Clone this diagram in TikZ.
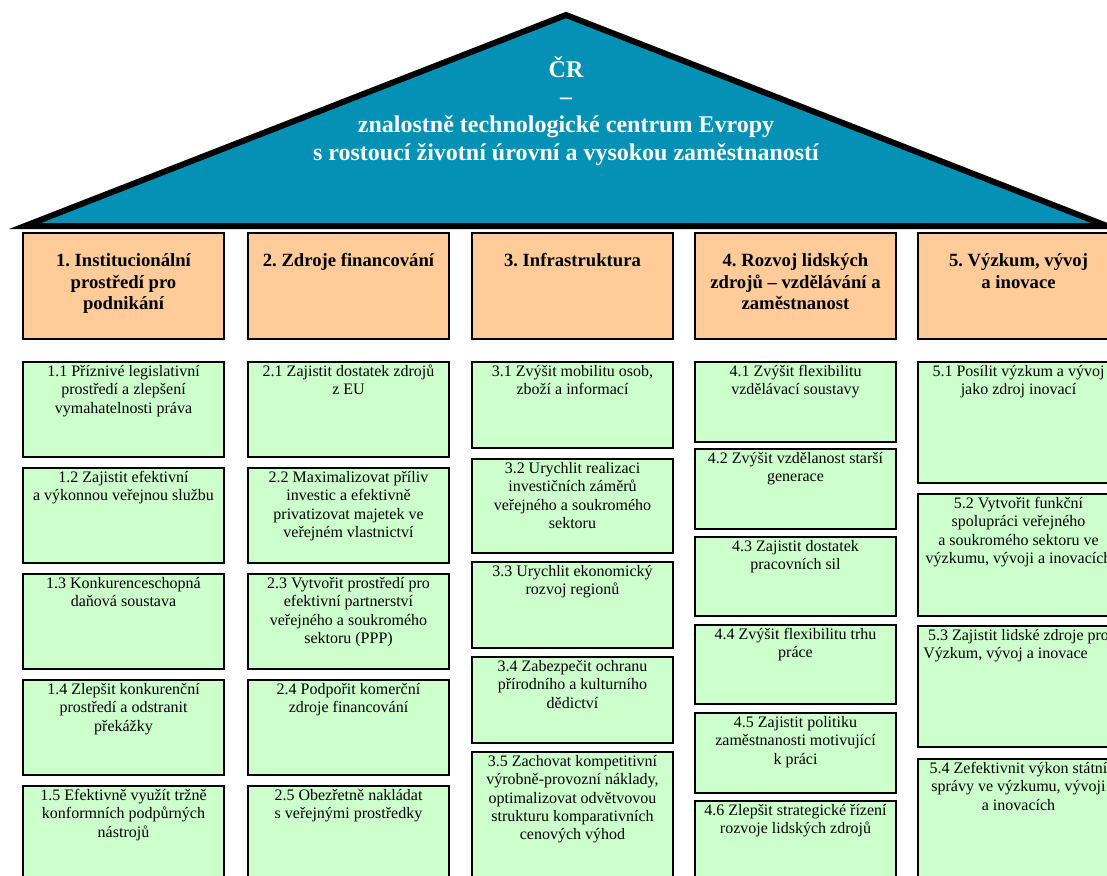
\documentclass[tikz,border=0pt]{standalone}
\usepackage{fontspec}
\setmainfont{Liberation Serif}
\frenchspacing
\definecolor{roofblue}{RGB}{4,145,181}
\definecolor{peach}{RGB}{255,204,153}
\definecolor{mint}{RGB}{204,255,204}
\newcommand{\gfont}{\fontsize{16}{18.4}\selectfont}
\newcommand{\hfont}{\fontsize{18.67}{21.5}\selectfont\bfseries}
\newcommand{\tfont}{\fontsize{24}{27.6}\selectfont\bfseries}
\newcommand{\gst}{\rule{0pt}{15pt}}
\newcommand{\hst}{\rule{0pt}{34.5pt}}
\newcommand{\tst}{\rule{0pt}{30pt}}
% green box: name, left x, top y, height, text
\newcommand{\gb}[5]{%
  \node[gbox, minimum height=#4pt] (#1) at (#2,#3) {};
  \node[gtext] (#1t) at (#1.north) {\gst #5};}
% header box: name, left x, text
\newcommand{\hb}[3]{%
  \node[hbox] (#1) at (#2,232) {};
  \node[htext] (#1t) at (#1.north) {\hst #3};}
\begin{document}
\begin{tikzpicture}[x=1pt,y=-1pt,
  hbox/.style={draw=black, line width=2pt, fill=peach, minimum width=201pt,
    minimum height=106pt, anchor=north west, inner sep=0pt},
  gbox/.style={draw=black, line width=2pt, fill=mint, minimum width=201pt,
    anchor=north west, inner sep=0pt},
  gtext/.style={anchor=north, inner sep=0pt, align=center, font=\gfont},
  htext/.style={anchor=north, inner sep=0pt, align=center, font=\hfont},
  ttext/.style={anchor=north, inner sep=0pt, align=center, font=\tfont, text=white},
  roofline/.style={draw=black, line width=6pt, line join=miter, fill=roofblue}]
\useasboundingbox (0,0) rectangle (1107,875);
\clip (0,0) rectangle (1107,875);

% roof
\coordinate (apex) at (566,15);
\coordinate (rl) at (25,226);
\coordinate (rr) at (1107,226);
\draw[roofline] (apex) -- (rl) -- (rr) -- cycle;
\node[ttext] (title) at (566,47) {\tst ČR\\–\\znalostně technologické centrum Evropy\\s rostoucí životní úrovní a vysokou zaměstnaností};

% headers
\hb{h1}{22}{1. Institucionální\\prostředí pro\\podnikání}
\hb{h2}{247}{2. Zdroje financování}
\hb{h3}{471}{3. Infrastruktura}
\hb{h4}{694}{4. Rozvoj lidských\\zdrojů – vzdělávání a\\zaměstnanost}
\hb{h5}{917}{5. Výzkum, vývoj\\a inovace}

% column 1
\gb{g11}{22}{361}{95}{1.1 Příznivé legislativní\\prostředí a zlepšení\\vymahatelnosti práva}
\gb{g12}{22}{467}{95}{1.2 Zajistit efektivní\\a výkonnou veřejnou službu}
\gb{g13}{22}{573}{95}{1.3 Konkurenceschopná\\daňová soustava}
\gb{g14}{22}{679}{95}{1.4 Zlepšit konkurenční\\prostředí a odstranit\\překážky}
\gb{g15}{22}{785}{95}{1.5 Efektivně využít tržně\\konformních podpůrných\\nástrojů}

% column 2
\gb{g21}{247}{361}{95}{2.1 Zajistit dostatek zdrojů\\z EU}
\gb{g22}{247}{467}{95}{2.2 Maximalizovat příliv\\investic a efektivně\\privatizovat majetek ve\\veřejném vlastnictví}
\gb{g23}{247}{573}{95}{2.3 Vytvořit prostředí pro\\efektivní partnerství\\veřejného a soukromého\\sektoru (PPP)}
\gb{g24}{247}{679}{95}{2.4 Podpořit komerční\\zdroje financování}
\gb{g25}{247}{785}{95}{2.5 Obezřetně nakládat\\s veřejnými prostředky}

% column 3
\gb{g31}{471}{361}{86}{3.1 Zvýšit mobilitu osob,\\zboží a informací}
\gb{g32}{471}{458}{94}{3.2 Urychlit realizaci\\investičních záměrů\\veřejného a soukromého\\sektoru}
\gb{g33}{471}{561}{86}{3.3 Urychlit ekonomický\\rozvoj regionů}
\gb{g34}{471}{656}{86}{3.4 Zabezpečit ochranu\\přírodního a kulturního\\dědictví}
\gb{g35}{471}{751}{130}{3.5 Zachovat kompetitivní\\výrobně-provozní náklady,\\optimalizovat odvětvovou\\strukturu komparativních\\cenových výhod}

% column 4
\gb{g41}{694}{361}{80}{4.1 Zvýšit flexibilitu\\vzdělávací soustavy}
\gb{g42}{694}{448}{80}{4.2 Zvýšit vzdělanost starší\\generace}
\gb{g43}{694}{536}{79}{4.3 Zajistit dostatek\\pracovních sil}
\gb{g44}{694}{624}{79}{4.4 Zvýšit flexibilitu trhu\\práce}
\gb{g45}{694}{712}{80}{4.5 Zajistit politiku\\zaměstnanosti motivující\\k práci}
\gb{g46}{694}{800}{90}{4.6 Zlepšit strategické řízení\\rozvoje lidských zdrojů}

% column 5
\gb{g51}{917}{361}{121}{5.1 Posílit výzkum a vývoj\\jako zdroj inovací}
\gb{g52}{917}{493}{122}{5.2 Vytvořit funkční\\spolupráci veřejného\\a soukromého sektoru ve\\výzkumu, vývoji a inovacích}
\gb{g53}{917}{625}{121}{5.3 Zajistit lidské zdroje pro\\Výzkum, vývoj a inovace\hspace*{26pt}}
\gb{g54}{917}{758}{130}{5.4 Zefektivnit výkon státní\\správy ve výzkumu, vývoji\\a inovacích}
\end{tikzpicture}
\end{document}
